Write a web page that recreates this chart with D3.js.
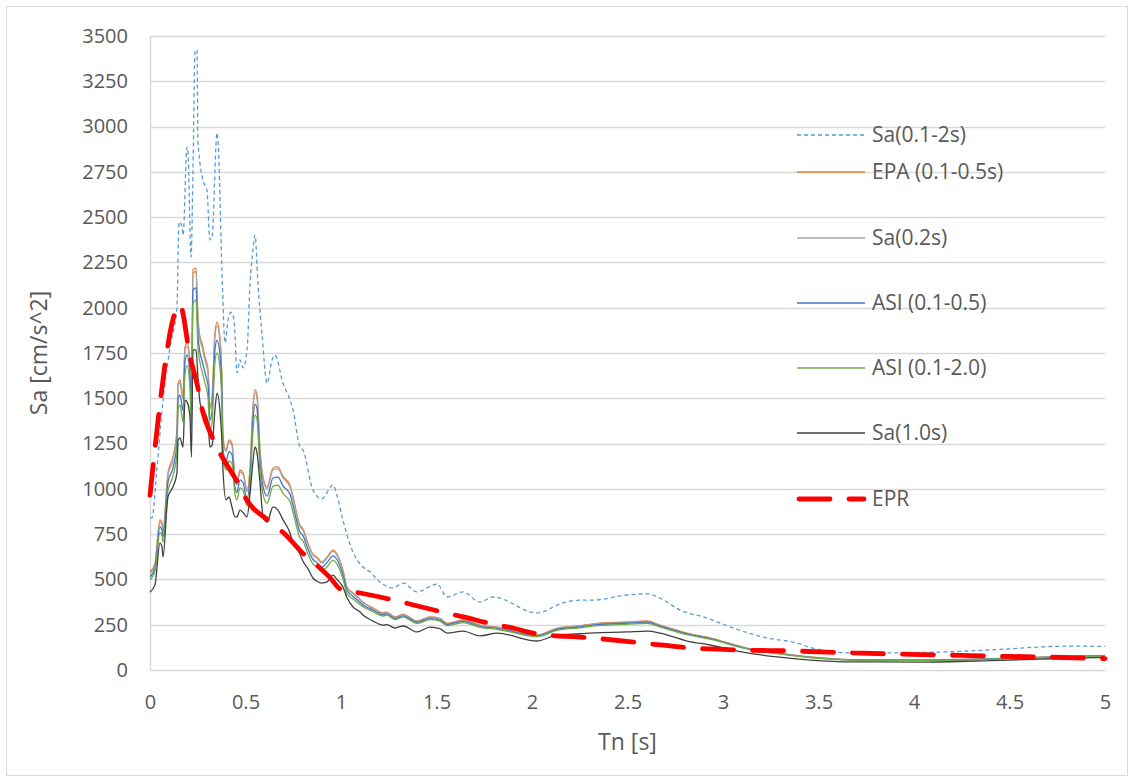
<!DOCTYPE html>
<html>
<head>
<meta charset="utf-8">
<script src="https://cdn.jsdelivr.net/npm/d3@7"></script>
<style>
  html, body { margin: 0; padding: 0; background: #fff; }
  svg { display: block; }
  text { font-family: "Open Sans", "Noto Sans", sans-serif; fill: #595959; }
</style>
</head>
<body>
<svg id="chart" width="1134" height="782"></svg>
<script>
// ---------------- DATA ----------------
const xTicks = [0, 0.5, 1, 1.5, 2, 2.5, 3, 3.5, 4, 4.5, 5];
const xTickLabels = ["0", "0.5", "1", "1.5", "2", "2.5", "3", "3.5", "4", "4.5", "5"];
const yTicks = [0, 250, 500, 750, 1000, 1250, 1500, 1750, 2000, 2250, 2500, 2750, 3000, 3250, 3500];

const seriesNames = ["Sa(0.1-2s)", "EPA (0.1-0.5s)", "Sa(0.2s)", "ASI (0.1-0.5)", "ASI (0.1-2.0)", "Sa(1.0s)", "EPR"];

// Sa(0.1-2s)
const periodsSa012 = [0, 0.01, 0.037, 0.063, 0.105, 0.141, 0.152, 0.168, 0.173, 0.194, 0.199, 0.215, 0.225, 0.236, 0.246, 0.251, 0.277, 0.298, 0.314, 0.325, 0.351, 0.356, 0.377, 0.393, 0.408, 0.424, 0.435, 0.445, 0.455, 0.471, 0.487, 0.508, 0.524, 0.539, 0.55, 0.565, 0.586, 0.613, 0.639, 0.654, 0.696, 0.733, 0.749, 0.785, 0.801, 0.853, 0.9, 0.958, 0.98, 1.01, 1.063, 1.115, 1.152, 1.204, 1.272, 1.325, 1.398, 1.482, 1.503, 1.555, 1.639, 1.728, 1.796, 2.026, 2.162, 2.251, 2.319, 2.497, 2.602, 2.67, 2.775, 2.916, 3.052, 3.23, 3.387, 3.455, 3.68, 3.785, 4.136, 4.487, 4.66, 4.832, 5.0];
const sa012 = [840, 840, 1120, 1434, 1783, 2003, 2473, 2445, 2400, 2887, 2855, 2280, 2750, 3423, 3423, 2926, 2705, 2650, 2374, 2390, 2965, 2926, 2192, 1805, 1930, 1975, 1960, 1850, 1640, 1712, 1668, 1767, 2137, 2319, 2400, 2137, 1860, 1584, 1711, 1739, 1584, 1491, 1435, 1231, 1215, 994, 945, 1021, 960, 828, 650, 569, 541, 486, 453, 480, 431, 469, 475, 403, 431, 375, 403, 315, 370, 386, 386, 414, 420, 397, 331, 287, 232, 177, 149, 125, 94, 94, 99, 116, 127, 132, 130];

// Shared periods for the five solid series
const periods = [0, 0.026, 0.052, 0.063, 0.068, 0.094, 0.12, 0.141, 0.147, 0.157, 0.173, 0.183, 0.194, 0.209, 0.217, 0.225, 0.241, 0.251, 0.262, 0.272, 0.288, 0.304, 0.314, 0.325, 0.34, 0.351, 0.366, 0.377, 0.382, 0.398, 0.414, 0.429, 0.445, 0.455, 0.471, 0.487, 0.508, 0.524, 0.539, 0.55, 0.56, 0.576, 0.592, 0.613, 0.644, 0.67, 0.696, 0.733, 0.749, 0.785, 0.801, 0.827, 0.853, 0.874, 0.9, 0.927, 0.958, 0.979, 1.01, 1.031, 1.063, 1.1, 1.115, 1.168, 1.22, 1.24, 1.283, 1.325, 1.398, 1.466, 1.518, 1.555, 1.639, 1.728, 1.817, 2.026, 2.131, 2.251, 2.319, 2.497, 2.602, 2.67, 2.812, 2.932, 3.126, 3.283, 3.455, 3.68, 4.03, 4.4, 4.71, 5.0];
const epa = [541, 590, 828, 810, 773, 1087, 1176, 1325, 1584, 1601, 1507, 1783, 1805, 1711, 1450, 2208, 2219, 1949, 1838, 1805, 1728, 1656, 1452, 1507, 1860, 1921, 1838, 1584, 1286, 1215, 1270, 1253, 1065, 1032, 1104, 1090, 994, 1121, 1452, 1546, 1520, 1215, 1065, 1010, 1115, 1121, 1070, 1020, 955, 800, 780, 700, 640, 624, 596, 624, 662, 640, 552, 460, 425, 390, 375, 342, 315, 320, 293, 309, 271, 293, 285, 259, 276, 248, 237, 193, 230, 245, 255, 265, 271, 248, 204, 177, 121, 94, 72, 57, 55, 62, 72, 80];
const sa02 = [532, 582, 815, 800, 762, 1075, 1160, 1310, 1565, 1585, 1490, 1765, 1785, 1690, 1364, 2190, 2200, 1930, 1820, 1785, 1710, 1640, 1440, 1490, 1840, 1900, 1820, 1570, 1275, 1205, 1258, 1240, 1055, 1022, 1093, 1080, 985, 1110, 1438, 1530, 1505, 1203, 1055, 1000, 1104, 1110, 1060, 1010, 945, 792, 772, 693, 634, 618, 590, 618, 655, 634, 547, 456, 421, 386, 372, 339, 312, 317, 290, 306, 268, 290, 282, 256, 273, 245, 235, 191, 228, 243, 252, 262, 268, 246, 202, 175, 120, 93, 71, 56, 54, 61, 71, 79];
const asi05 = [515, 562, 790, 770, 735, 1035, 1115, 1250, 1500, 1518, 1430, 1700, 1740, 1630, 1400, 2098, 2109, 1850, 1750, 1710, 1640, 1570, 1380, 1430, 1770, 1820, 1745, 1505, 1220, 1155, 1205, 1190, 1010, 980, 1050, 1035, 945, 1065, 1380, 1468, 1444, 1154, 1012, 960, 1060, 1065, 1017, 970, 907, 762, 742, 667, 610, 594, 568, 594, 630, 610, 526, 440, 406, 374, 360, 330, 305, 310, 284, 299, 263, 284, 276, 251, 268, 240, 230, 188, 224, 238, 248, 258, 264, 242, 199, 173, 118, 92, 70, 56, 54, 61, 71, 79];
const asi20 = [498, 545, 760, 740, 705, 990, 1070, 1200, 1440, 1463, 1370, 1630, 1680, 1560, 1330, 2020, 2043, 1780, 1695, 1650, 1584, 1500, 1320, 1370, 1700, 1750, 1670, 1440, 1170, 1105, 1155, 1140, 970, 940, 1005, 992, 905, 1020, 1320, 1407, 1383, 1105, 970, 920, 1015, 1020, 975, 930, 870, 730, 712, 640, 585, 570, 545, 570, 605, 585, 505, 422, 392, 362, 350, 322, 298, 303, 278, 292, 257, 278, 270, 245, 262, 235, 225, 184, 219, 233, 243, 252, 258, 237, 195, 170, 116, 90, 69, 55, 53, 60, 70, 78];
const sa10 = [430, 470, 700, 680, 624, 955, 1010, 1087, 1270, 1281, 1231, 1490, 1480, 1400, 1176, 1767, 1767, 1617, 1474, 1440, 1419, 1364, 1231, 1240, 1435, 1529, 1435, 1253, 1104, 939, 955, 900, 845, 845, 883, 870, 845, 977, 1150, 1231, 1200, 1032, 845, 817, 900, 883, 830, 756, 700, 640, 600, 560, 508, 490, 480, 486, 524, 500, 458, 400, 348, 320, 304, 270, 248, 250, 232, 243, 210, 237, 228, 204, 215, 188, 204, 160, 193, 200, 205, 210, 215, 204, 160, 138, 94, 72, 55, 45, 44, 52, 62, 70];

// EPR
const periodsEPR = [0, 0.157, 0.21, 0.25, 0.27, 0.325, 0.366, 0.46, 0.5, 0.63, 0.7, 0.82, 0.89, 0.94, 1.0, 1.1, 1.26, 1.38, 1.55, 1.64, 1.82, 1.9, 2.0, 2.08, 2.25, 2.58, 2.84, 3.1, 3.37, 3.68, 4.14, 4.4, 4.66, 5.0];
const epr = [965, 2015, 1728, 1562, 1452, 1286, 1198, 1032, 950, 817, 756, 624, 563, 513, 445, 425, 390, 359, 315, 293, 248, 232, 205, 193, 182, 149, 121, 110, 105, 94, 83, 77, 72, 63];

// ---------------- CHART ----------------
const W = 1134, H = 782;
const margin = { left: 150, right: 29, top: 36, bottom: 112 };
const svg = d3.select("#chart");

// outer chart border
svg.append("rect").attr("x", 6.5).attr("y", 6.5).attr("width", W - 13).attr("height", H - 13)
  .attr("fill", "#fff").attr("stroke", "#D9D9D9").attr("stroke-width", 1);

const x = d3.scaleLinear().domain([0, 5]).range([margin.left, W - margin.right]);
const y = d3.scaleLinear().domain([0, 3500]).range([H - margin.bottom, margin.top]);

// horizontal gridlines
svg.append("g").selectAll("line").data(yTicks.filter(d => d > 0)).join("line")
  .attr("x1", x(0)).attr("x2", x(5))
  .attr("y1", d => Math.round(y(d)) + 0.5).attr("y2", d => Math.round(y(d)) + 0.5)
  .attr("stroke", "#D9D9D9").attr("stroke-width", 1.5);

// axes
const yAxis = d3.axisLeft(y).tickValues(yTicks).tickSize(0).tickPadding(22).tickFormat(d3.format("d"));
const gy = svg.append("g").attr("transform", `translate(${x(0)},0)`).call(yAxis);
gy.select(".domain").attr("stroke", "#D9D9D9").attr("stroke-width", 1.5);
gy.selectAll("text").attr("font-size", 20).style("fill", "#595959");

const xAxis = d3.axisBottom(x).tickValues(xTicks).tickSize(0).tickPadding(25)
  .tickFormat((d, i) => xTickLabels[i]);
const gx = svg.append("g").attr("transform", `translate(0,${y(0)})`).call(xAxis);
gx.select(".domain").attr("stroke", "#D9D9D9").attr("stroke-width", 1.5);
gx.selectAll("text").attr("font-size", 20).style("fill", "#595959");

// axis titles
svg.append("text").attr("x", (x(0) + x(5)) / 2).attr("y", 750).attr("text-anchor", "middle")
  .attr("font-size", 23).text("Tn [s]");
svg.append("text").attr("transform", `translate(47,${(y(0) + y(3500)) / 2}) rotate(-90)`)
  .attr("text-anchor", "middle").attr("font-size", 23).text("Sa [cm/s^2]");

// series
const styles = [
  { color: "#5B9BD5", width: 1.3, dash: "4,3", cap: "butt" },
  { color: "#ED7D31", width: 1.3, dash: null, cap: "butt" },
  { color: "#A5A5A5", width: 1.3, dash: null, cap: "butt" },
  { color: "#4472C4", width: 1.3, dash: null, cap: "butt" },
  { color: "#70AD47", width: 1.3, dash: null, cap: "butt" },
  { color: "#404040", width: 1.3, dash: null, cap: "butt" },
  { color: "#FF0000", width: 4.8, dash: "31,19", cap: "round" }
];
const seriesData = [
  d3.zip(periodsSa012, sa012),
  d3.zip(periods, epa),
  d3.zip(periods, sa02),
  d3.zip(periods, asi05),
  d3.zip(periods, asi20),
  d3.zip(periods, sa10),
  d3.zip(periodsEPR, epr)
];
const line = d3.line().x(d => x(d[0])).y(d => y(d[1])).curve(d3.curveMonotoneX);
const gs = svg.append("g");
seriesData.forEach((data, i) => {
  const s = styles[i];
  gs.append("path").datum(data).attr("d", line)
    .attr("fill", "none").attr("stroke", s.color).attr("stroke-width", s.width)
    .attr("stroke-dasharray", s.dash).attr("stroke-linecap", s.cap).attr("stroke-linejoin", "round");
});

// legend
const legendY = [135, 172, 238, 303, 368, 433, 499];
const lg = svg.append("g");
seriesNames.forEach((name, i) => {
  const s = styles[i];
  const ly = legendY[i];
  lg.append("line").attr("x1", i === 6 ? 799 : 797).attr("x2", i === 6 ? 864 : 865).attr("y1", ly).attr("y2", ly)
    .attr("stroke", s.color).attr("stroke-width", s.width)
    .attr("stroke-dasharray", s.dash).attr("stroke-linecap", s.cap);
  lg.append("text").attr("x", 872).attr("y", ly).attr("dy", "0.35em")
    .attr("font-size", 21).text(name);
});
</script>
</body>
</html>
